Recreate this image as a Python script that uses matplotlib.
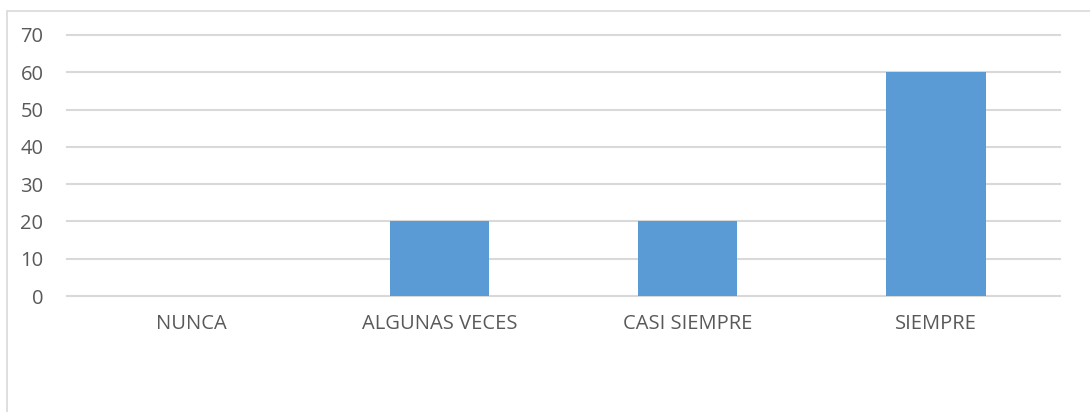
import matplotlib.pyplot as plt
from matplotlib.patches import Rectangle

# datos del grafico
categorias = ["NUNCA", "ALGUNAS VECES", "CASI SIEMPRE", "SIEMPRE"]
valores = [0, 20, 20, 60]
ticks_y = [0, 10, 20, 30, 40, 50, 60, 70]

plt.rcParams["font.family"] = ["Open Sans", "DejaVu Sans"]

W, H = 1090, 412
fig = plt.figure(figsize=(W / 100, H / 100), dpi=100)

# borde del area del grafico (solo izquierda y arriba visibles)
fig.patches.append(Rectangle((7 / W, -0.1), 1.2, (H - 11) / H + 0.1,
                             transform=fig.transFigure, fill=False,
                             edgecolor="#d9d9d9", linewidth=1.2))

ax = fig.add_axes([67 / W, 1 - 296 / H, (1060 - 67) / W, (296 - 35) / H])
x = range(len(categorias))
ax.bar(x, valores, width=0.4, color="#5b9bd5", zorder=3)

ax.set_xlim(-0.5, len(categorias) - 0.5)
ax.set_ylim(0, 70)
ax.set_yticks(ticks_y)
ax.set_xticks(list(x))
ax.set_xticklabels(categorias)
ax.yaxis.grid(True, color="#d9d9d9", linewidth=1.5, zorder=0, clip_on=False)
ax.set_axisbelow(True)
for s in ax.spines.values():
    s.set_visible(False)
ax.tick_params(axis="both", length=0, labelsize=14.5, labelcolor="#595959")
ax.tick_params(axis="y", pad=17)
ax.tick_params(axis="x", pad=13)

fig.savefig("out.png", dpi=100)
